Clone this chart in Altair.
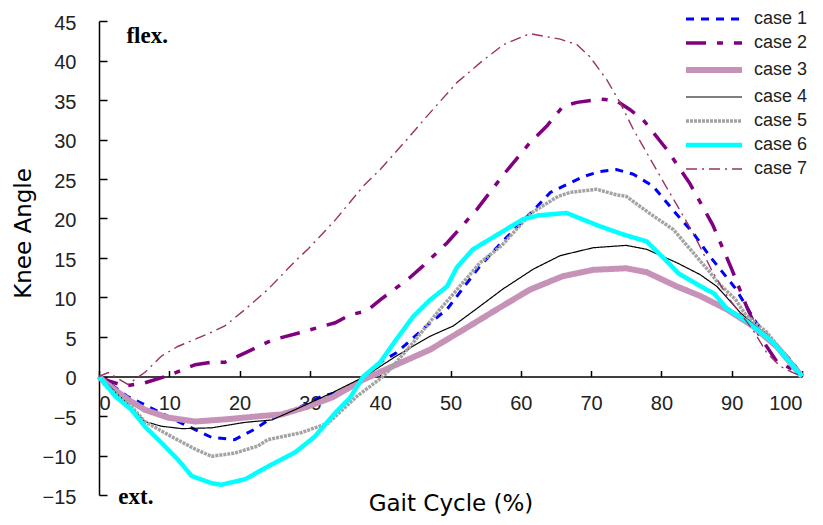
import altair as alt
import pandas as pd

cases = ["case 1", "case 2", "case 3", "case 4", "case 5", "case 6", "case 7"]

c1_x = [0, 2, 4, 7, 11.5, 16, 19.3, 22.3, 24.6, 27.9, 31.7, 35.7, 40, 42.3, 47.1, 49.5, 54.2, 57.3, 62.3, 64.2, 67, 68.9, 71, 73.6, 76, 78.8, 82.2, 84.5, 86.9, 90.5, 93.5, 95.9, 98.7, 100]
c1_y = [0, -1.2, -2.5, -3.8, -5.8, -7.7, -8.0, -6.6, -5.2, -4.2, -2.5, -1.6, 1.8, 3.0, 6.8, 8.5, 14.0, 17.0, 21.5, 23.3, 24.5, 25.3, 25.9, 26.2, 25.6, 24.1, 20.5, 18.2, 15.2, 11.2, 6.8, 4.3, 1.8, 0]

c2_x = [0, 1.5, 3.7, 6.5, 9.8, 13.7, 16, 17.9, 20.8, 24.6, 28.8, 33.6, 35.7, 38.1, 40, 44.2, 46.1, 49.5, 53.7, 57.5, 61.3, 63.7, 66, 68, 71.5, 73.6, 75.5, 77.4, 80.8, 84, 87.3, 90, 92.1, 94, 96.4, 98.7, 100]
c2_y = [0, -0.6, -1.2, -0.8, 0.1, 1.5, 1.8, 1.8, 3.0, 4.6, 5.6, 6.8, 7.8, 8.3, 9.7, 12.5, 14.0, 16.9, 21.1, 25.5, 29.6, 31.7, 34.2, 34.7, 35.1, 34.9, 33.8, 32.5, 28.7, 24.5, 19.2, 13.6, 8.9, 5.1, 1.9, 0.9, 0]

c3_x = [0, 0.9, 4.1, 6.5, 9.8, 13.7, 18.3, 23.1, 26, 29.7, 33.3, 37.6, 42.3, 47.1, 51.8, 56.6, 61.3, 66, 70.3, 75, 77.9, 82.2, 85.5, 89.3, 93, 96.4, 100]
c3_y = [0, -0.8, -2.9, -4.2, -5.2, -5.7, -5.4, -5.0, -4.8, -3.8, -2.6, -0.4, 1.5, 3.4, 5.9, 8.5, 11.0, 12.7, 13.5, 13.7, 13.2, 11.4, 10.2, 8.5, 6.4, 3.8, 0]

c4_x = [0, 4.1, 6.5, 8.9, 11.8, 16, 20.8, 24.6, 27.9, 33.3, 37.8, 42.3, 47.1, 50.4, 54.2, 57.5, 61.8, 65.6, 70.3, 75, 77.9, 82.2, 85.5, 87.9, 91.2, 95, 100]
c4_y = [0, -3.5, -5.7, -6.3, -6.6, -6.5, -5.8, -5.5, -4.2, -2.0, 0, 2.6, 5.1, 6.4, 8.9, 11.1, 13.6, 15.3, 16.3, 16.6, 16.1, 14.4, 12.9, 11.4, 8.1, 5.1, 0]

c5_x = [0, 0.9, 4.1, 6.5, 10.3, 13.7, 16, 19.3, 22.6, 24, 28.8, 32.6, 36.7, 40.4, 41.4, 44.7, 48.5, 51.8, 54.2, 57.3, 61.5, 65.3, 67, 70.8, 73.6, 75, 78.4, 81.7, 84.3, 86.9, 88, 90.5, 92, 95, 100]
c5_y = [0, -1.2, -3.3, -5.7, -7.6, -9.2, -10.1, -9.7, -8.8, -8.0, -7.1, -5.9, -2.5, 0, 0.9, 4.3, 8.5, 11.9, 14.4, 16.6, 20.7, 22.8, 23.3, 23.7, 23.0, 22.8, 20.6, 18.6, 15.9, 13.2, 11.9, 9.8, 7.8, 5.6, 0]

c6_x = [0, 2.3, 4.6, 6.5, 8.9, 11.2, 13.2, 16, 17.4, 20.8, 24, 27.9, 30.7, 33.6, 35.7, 37.6, 40, 42.3, 44.7, 47.1, 49.5, 50.9, 53.2, 57.5, 60.3, 62.5, 66.5, 71.3, 74.5, 77.9, 80.3, 82.5, 86.4, 87.5, 89.3, 92.1, 95.9, 100]
c6_y = [0, -2.5, -4.2, -6.3, -8.4, -10.5, -12.6, -13.5, -13.7, -13.0, -11.4, -9.6, -7.6, -4.6, -2.7, 0, 1.8, 4.7, 7.6, 9.7, 11.4, 13.8, 16.1, 18.4, 19.9, 20.4, 20.7, 19.0, 18.0, 17.1, 15.0, 13.0, 11.0, 10.5, 8.6, 7.0, 4.3, 0]

c7_x = [0, 1.3, 4.1, 6.5, 8.9, 11.2, 16, 17.9, 20.8, 24, 27.9, 29.7, 33.6, 37.6, 40, 43.8, 46.6, 50.9, 54.2, 57.5, 61.3, 65.6, 68, 69.8, 72.2, 74.1, 76, 80.5, 84.5, 87.3, 89.5, 93, 95, 96.9, 98.7, 100]
c7_y = [0, 0.5, -1.0, 0.5, 2.6, 3.8, 5.6, 6.4, 8.5, 11.0, 14.6, 16.1, 19.8, 24.1, 26.2, 30.0, 32.9, 37.2, 39.7, 42.0, 43.4, 42.7, 42.0, 40.5, 37.6, 34.7, 31.3, 24.3, 18.2, 13.2, 10.0, 5.9, 3.0, 1.3, 0.5, 0]

x_ticks = [0, 10, 20, 30, 40, 50, 60, 70, 80, 90, 100]
y_ticks = [-15, -10, -5, 0, 5, 10, 15, 20, 25, 30, 35, 40, 45]

note_text = ["flex.", "ext."]
note_x = [3.9, 2.75]
note_y = [42.2, -16.2]

colors = ["#0000FF", "#800080", "#C792B8", "#000000", "#A3A3A3", "#00FFFF", "#993366"]
widths = [3, 3.5, 6, 1.2, 3.5, 4.5, 1.4]
dashes = [[8, 7], [20, 11, 6, 11], [1, 0], [1, 0], [3, 1], [1, 0], [11, 5, 2, 5]]

all_x = [c1_x, c2_x, c3_x, c4_x, c5_x, c6_x, c7_x]
all_y = [c1_y, c2_y, c3_y, c4_y, c5_y, c6_y, c7_y]
rows = []
for name, xs, ys in zip(cases, all_x, all_y):
    for i, (a, b) in enumerate(zip(xs, ys)):
        rows.append({"case": name, "x": a, "y": b, "i": i})
df = pd.DataFrame(rows)
notes = pd.DataFrame({"t": note_text, "x": note_x, "y": note_y})

W, H = 703, 474
X0, X1 = 0, 100
Y0, Y1 = -15, 45
xscale = alt.Scale(domain=[X0, X1], nice=False, zero=False)
yscale = alt.Scale(domain=[Y0, Y1], nice=False, zero=False)
zero_from_top = H * (Y1 - 0) / (Y1 - Y0)
zero_from_bottom = H - zero_from_top

FONT = "Liberation Sans"
TFONT = "DejaVu Sans"
legend = alt.Legend(title=None, orient="none", legendX=585, legendY=-11,
                    symbolType="M-1.4,0L9.8,0", symbolSize=100,
                    labelFontSize=18, labelFont=FONT, labelColor="#222222",
                    labelOffset=52, rowPadding=6, padding=0)

lines = alt.Chart(df).mark_line(clip=False).encode(
    x=alt.X("x:Q", scale=xscale,
            axis=alt.Axis(orient="bottom", offset=-zero_from_bottom, domain=False, ticks=False, tickSize=0,
                          grid=False, values=x_ticks, labelFontSize=20, labelFont=FONT, labelColor="#222222",
                          labelPadding=17, title="Gait Cycle (%)", titleFont=TFONT, titleFontSize=23,
                          titleFontWeight="normal", titleColor="#000000", titleY=134,
                          titleBaseline="alphabetic")),
    y=alt.Y("y:Q", scale=yscale,
            axis=alt.Axis(orient="left", domain=False, ticks=False, tickSize=0, grid=False, values=y_ticks,
                          labelFontSize=20, labelFont=FONT, labelColor="#222222", labelPadding=23,
                          labelOffset=2, title="Knee Angle", titleFont=TFONT, titleFontSize=23,
                          titleFontWeight="normal", titleColor="#000000", titleX=-76, titleY=212,
                          titleAngle=270, titleAlign="center", titleBaseline="middle")),
    color=alt.Color("case:N", scale=alt.Scale(domain=cases, range=colors), legend=legend),
    strokeDash=alt.StrokeDash("case:N", scale=alt.Scale(domain=cases, range=dashes), legend=legend),
    strokeWidth=alt.StrokeWidth("case:N", scale=alt.Scale(type="ordinal", domain=cases, range=widths),
                                legend=legend),
    order="i:Q",
)

ann = alt.Chart(notes).mark_text(align="left", baseline="alphabetic", font="Liberation Serif",
                                  fontWeight="bold", fontSize=23, color="#000000", clip=False).encode(
    x=alt.X("x:Q", scale=xscale,
            axis=alt.Axis(orient="top", offset=-zero_from_top, labels=False, ticks=True, tickSize=6,
                          domain=True, grid=False, values=x_ticks, title=None, domainColor="#000000",
                          tickColor="#000000", domainWidth=1.5, tickWidth=1.5)),
    y=alt.Y("y:Q", scale=yscale,
            axis=alt.Axis(orient="right", offset=-W, labels=False, ticks=True, tickSize=8,
                          domain=True, grid=False, values=y_ticks, title=None, domainColor="#000000",
                          tickColor="#000000", domainWidth=1.5, tickWidth=1.5)),
    text="t:N",
)

chart = alt.layer(lines, ann).resolve_scale(x="independent", y="independent").properties(
    width=W, height=H, autosize="none",
    padding={"left": 91, "top": 13, "right": 13, "bottom": 21},
).configure_view(stroke=None)

chart.save("out.html", embed_options={"renderer": "svg", "actions": False})
